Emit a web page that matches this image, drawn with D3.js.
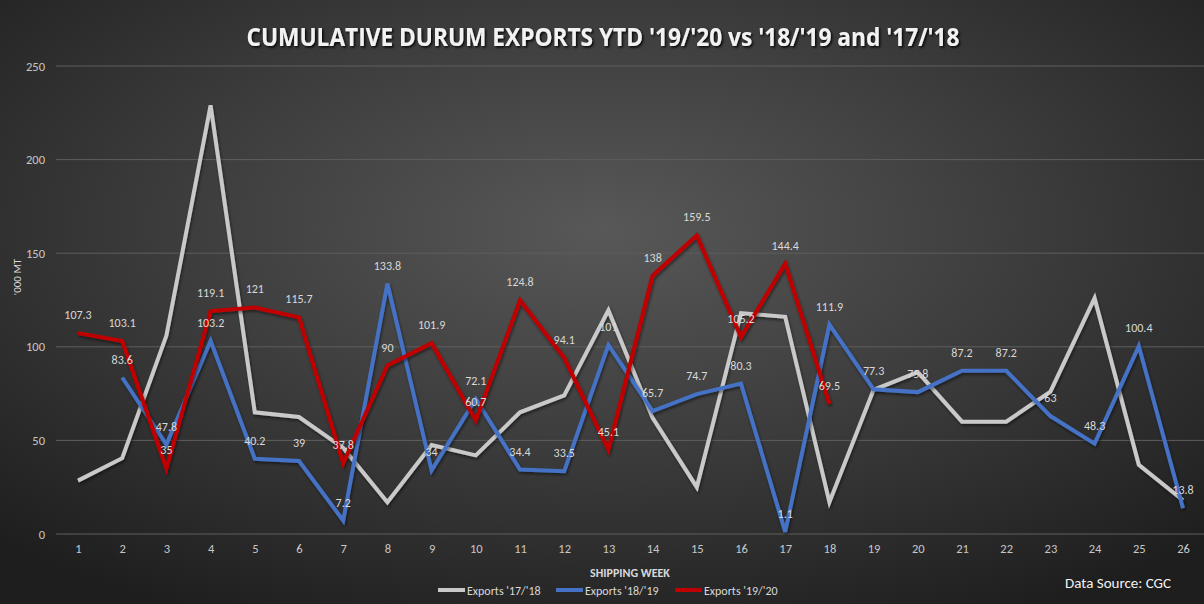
<!DOCTYPE html>
<html><head><meta charset="utf-8">
<script src="https://cdn.jsdelivr.net/npm/d3@7"></script>
<style>html,body{margin:0;padding:0;background:#2a2a2a;}svg{display:block;}</style>
</head><body>
<svg id="chart" width="1204" height="604"></svg>
<script>
const weeks = d3.range(1, 27).map(String);
const exports1718 = [28.5,40.5,106,229,65,62.5,46,17,47.5,42,65,74,119.5,62,25,118,116,17,77,86.5,60,60,76,126,37,18];
const exports1819 = [null,83.6,47.8,103.2,40.2,39,7.2,133.8,34,72.1,34.4,33.5,101,65.7,74.7,80.3,1.1,111.9,77.3,75.8,87.2,87.2,63,48.3,100.4,13.8];
const exports1920 = [107.3,103.1,35,119.1,121,115.7,37.8,90,101.9,60.7,124.8,94.1,45.1,138,159.5,105.2,144.4,69.5];
const yTicks = [0,50,100,150,200,250];
const seriesNames = ["Exports '17/'18","Exports '18/'19","Exports '19/'20"];
const seriesColors = ["#c9c9c9","#4472c4","#c00000"];

const svg = d3.select("#chart");
const W = 1204, H = 604;
const defs = svg.append("defs");
const grad = defs.append("radialGradient").attr("id","bg").attr("cx","50%").attr("cy","38%").attr("r","72%");
grad.append("stop").attr("offset","0%").attr("stop-color","#585858");
grad.append("stop").attr("offset","50%").attr("stop-color","#3c3c3c");
grad.append("stop").attr("offset","100%").attr("stop-color","#1e1e1e");
const sh = defs.append("filter").attr("id","shadow").attr("x","-5%").attr("y","-20%").attr("width","110%").attr("height","150%");
sh.append("feDropShadow").attr("dx",1.5).attr("dy",1.5).attr("stdDeviation",1).attr("flood-color","#000").attr("flood-opacity",0.9);
const lsh = defs.append("filter").attr("id","lshadow").attr("x","-5%").attr("y","-5%").attr("width","110%").attr("height","110%");
lsh.append("feDropShadow").attr("dx",1).attr("dy",2).attr("stdDeviation",1.5).attr("flood-color","#000").attr("flood-opacity",0.5);

svg.append("rect").attr("width",W).attr("height",H).attr("fill","url(#bg)");

const x = d3.scalePoint().domain(weeks).range([78,1183]);
const y = d3.scaleLinear().domain([0,250]).range([534,66]);

svg.append("g").selectAll("line").data(yTicks).join("line")
  .attr("x1",56).attr("x2",1204).attr("y1",d=>y(d)).attr("y2",d=>y(d))
  .attr("stroke","#5e5e5e").attr("stroke-width",1);

const font = "Carlito, 'Open Sans', 'Liberation Sans', sans-serif";

const yAxis = svg.append("g").attr("transform","translate(56,0)")
  .call(d3.axisLeft(y).tickValues(yTicks).tickSize(0).tickPadding(11));
yAxis.select(".domain").remove();
yAxis.selectAll("text").attr("fill","#c8c8c8").style("font-family",font).style("font-size","12.5px");

const xAxis = svg.append("g").attr("transform","translate(0,534)")
  .call(d3.axisBottom(x).tickSize(0).tickPadding(10));
xAxis.select(".domain").remove();
xAxis.selectAll("text").attr("fill","#c8c8c8").style("font-family",font).style("font-size","12.5px");

svg.append("text").attr("x",603).attr("y",46).attr("text-anchor","middle")
  .attr("fill","#f2f2f2").attr("filter","url(#shadow)")
  .attr("textLength",713).attr("lengthAdjust","spacingAndGlyphs")
  .style("font-family","'Open Sans', sans-serif").style("font-weight","700").style("font-size","25px")
  .text("CUMULATIVE DURUM EXPORTS YTD '19/'20 vs '18/'19 and '17/'18");

svg.append("text").attr("transform","translate(21,277) rotate(-90)").attr("text-anchor","middle")
  .attr("fill","#d9d9d9").style("font-family",font).style("font-size","11px").text("'000 MT");

svg.append("text").attr("x",630).attr("y",577).attr("text-anchor","middle")
  .attr("fill","#d9d9d9").style("font-family",font).style("font-weight","700").style("font-size","12px")
  .text("SHIPPING WEEK");

const seriesData = [exports1718, exports1819, exports1920];
const line = d3.line().defined(d=>d.v!=null).x(d=>x(d.w)).y(d=>y(d.v));
seriesData.forEach((s,i)=>{
  const pts = s.map((v,j)=>({w:weeks[j],v}));
  svg.append("path").datum(pts).attr("d",line).attr("fill","none").attr("filter","url(#lshadow)")
    .attr("stroke",seriesColors[i]).attr("stroke-width",4).attr("stroke-linejoin","miter").attr("stroke-linecap","butt");
});

[1,2].forEach(i=>{
  const pts = seriesData[i].map((v,j)=>({w:weeks[j],v})).filter(d=>d.v!=null);
  svg.append("g").selectAll("text").data(pts).join("text")
    .attr("x",d=>x(d.w)).attr("y",d=>y(d.v)-14).attr("text-anchor","middle")
    .attr("fill","#d9d9d9").style("font-family",font).style("font-size","12px")
    .text(d=>d.v);
});

const legX = [438,556,675];
const lg = svg.append("g");
seriesNames.forEach((n,i)=>{
  lg.append("line").attr("x1",legX[i]).attr("x2",legX[i]+27).attr("y1",590).attr("y2",590)
    .attr("stroke",seriesColors[i]).attr("stroke-width",4);
  lg.append("text").attr("x",legX[i]+29).attr("y",594.5).attr("fill","#d9d9d9")
    .style("font-family",font).style("font-size","12px").text(n);
});

svg.append("text").attr("x",1171).attr("y",588).attr("text-anchor","end").attr("fill","#f2f2f2")
  .style("font-family",font).style("font-size","15px").text("Data Source: CGC");
</script>
</body></html>
